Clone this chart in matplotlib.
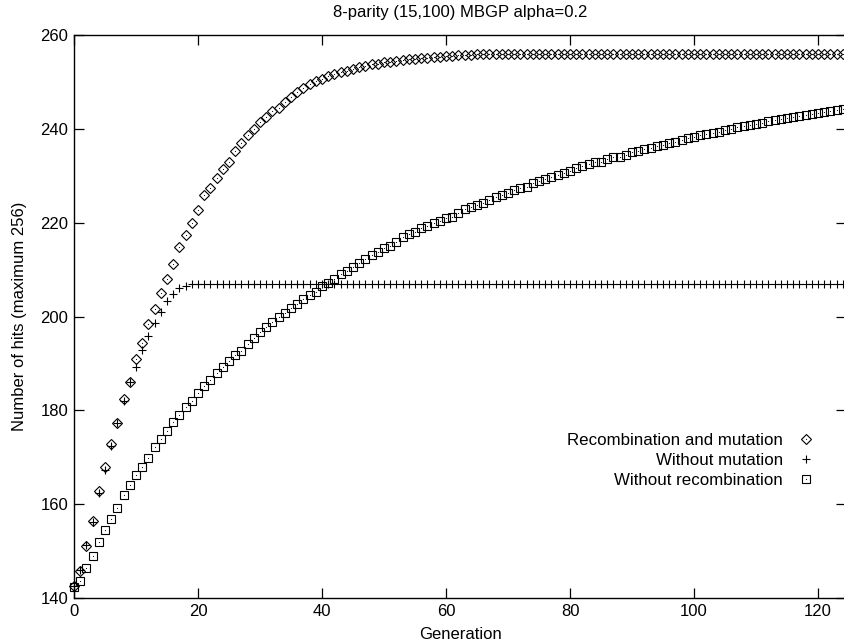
import matplotlib
matplotlib.use("Agg")
import matplotlib.pyplot as plt
import numpy as np

plt.rcParams['font.family'] = ['Liberation Sans', 'DejaVu Sans']

title = "8-parity (15,100) MBGP alpha=0.2"
xlabel = "Generation"
ylabel = "Number of hits (maximum 256)"
labels = ["Recombination and mutation", "Without mutation", "Without recombination"]

generations = list(range(0, 126))

rec_and_mut = [
    142.5, 145.8, 151.1, 156.4, 162.9, 168.0, 172.8, 177.3, 182.4, 186.0,
    190.9, 194.3, 198.4, 201.6, 205.1, 208.0, 211.1, 214.9, 217.4, 219.9,
    222.7, 225.8, 227.3, 229.5, 231.4, 233.0, 235.2, 236.9, 238.7, 240.0,
    241.4, 242.6, 243.7, 244.5, 245.7, 246.8, 247.8, 248.7, 249.5, 250.1,
    250.6, 251.2, 251.7, 252.1, 252.4, 252.8, 253.2, 253.4, 253.8, 253.9,
    254.2, 254.3, 254.5, 254.6, 254.8, 254.9, 255.0, 255.1, 255.3, 255.4,
    255.5, 255.6, 255.7, 255.8, 255.8, 255.9, 255.9, 256.0, 256.0, 256.0,
    256.0, 256.0, 256.0, 256.0, 256.0, 256.0, 256.0, 256.0, 256.0, 256.0,
    256.0, 256.0, 256.0, 256.0, 256.0, 256.0, 256.0, 256.0, 256.0, 256.0,
    256.0, 256.0, 256.0, 256.0, 256.0, 256.0, 256.0, 256.0, 256.0, 256.0,
    256.0, 256.0, 256.0, 256.0, 256.0, 256.0, 256.0, 256.0, 256.0, 256.0,
    256.0, 256.0, 256.0, 256.0, 256.0, 256.0, 256.0, 256.0, 256.0, 256.0,
    256.0, 256.0, 256.0, 256.0, 256.0, 256.0,
]

without_mutation = [
    142.5, 146.0, 151.2, 156.3, 162.3, 167.3, 172.3, 177.2, 181.9, 186.1,
    189.3, 192.9, 195.9, 198.7, 201.0, 203.2, 204.8, 206.0, 206.6, 206.9,
    206.9, 206.9, 206.9, 206.9, 206.9, 206.9, 206.9, 206.9, 206.9, 206.9,
    206.9, 206.9, 206.9, 206.9, 206.9, 206.9, 206.9, 206.9, 206.9, 206.9,
    206.9, 206.9, 206.9, 206.9, 206.9, 206.9, 206.9, 206.9, 206.9, 206.9,
    206.9, 206.9, 206.9, 206.9, 206.9, 206.9, 206.9, 206.9, 206.9, 206.9,
    206.9, 206.9, 206.9, 206.9, 206.9, 206.9, 206.9, 206.9, 206.9, 206.9,
    206.9, 206.9, 206.9, 206.9, 206.9, 206.9, 206.9, 206.9, 206.9, 206.9,
    206.9, 206.9, 206.9, 206.9, 206.9, 206.9, 206.9, 206.9, 206.9, 206.9,
    206.9, 206.9, 206.9, 206.9, 206.9, 206.9, 206.9, 206.9, 206.9, 206.9,
    206.9, 206.9, 206.9, 206.9, 206.9, 206.9, 206.9, 206.9, 206.9, 206.9,
    206.9, 206.9, 206.9, 206.9, 206.9, 206.9, 206.9, 206.9, 206.9, 206.9,
    206.9, 206.9, 206.9, 206.9, 206.9, 206.9,
]

without_recombination = [
    142.3, 143.6, 146.5, 149.0, 151.9, 154.4, 156.8, 159.1, 161.9, 164.0,
    166.2, 167.9, 169.9, 172.2, 173.9, 175.6, 177.5, 179.0, 180.7, 181.9,
    183.6, 185.1, 186.5, 188.0, 189.3, 190.6, 191.8, 192.7, 194.2, 195.4,
    196.8, 197.8, 198.9, 199.8, 200.7, 201.8, 202.7, 203.7, 204.5, 205.3,
    206.4, 207.1, 208.0, 209.0, 209.8, 210.6, 211.5, 212.2, 213.1, 213.8,
    214.6, 215.0, 215.8, 216.9, 217.5, 218.1, 218.8, 219.2, 219.9, 220.4,
    221.0, 221.3, 222.0, 222.9, 223.3, 223.8, 224.2, 224.9, 225.4, 225.9,
    226.3, 227.0, 227.4, 227.7, 228.4, 228.8, 229.3, 229.7, 230.2, 230.6,
    231.0, 231.6, 232.0, 232.5, 232.9, 233.0, 233.5, 233.9, 234.1, 234.5,
    235.0, 235.3, 235.6, 236.0, 236.3, 236.6, 237.0, 237.3, 237.7, 238.0,
    238.3, 238.6, 238.8, 239.1, 239.4, 239.7, 240.0, 240.3, 240.6, 240.8,
    241.0, 241.3, 241.6, 241.8, 242.0, 242.3, 242.5, 242.7, 242.9, 243.2,
    243.4, 243.6, 243.9, 244.1, 244.3, 244.5,
]

xticks = [0, 20, 40, 60, 80, 100, 120]
yticks = [140, 160, 180, 200, 220, 240, 260]

W, H = 844, 643
fig = plt.figure(figsize=(W / 100, H / 100), dpi=100)
left, right, top, bottom = 74, 846, 35, 598
ax = fig.add_axes([left / W, 1 - bottom / H, (right - left) / W, (bottom - top) / H])

series = [
    (rec_and_mut, 'D', 4.6),
    (without_mutation, '+', 6.0),
    (without_recombination, 's', 5.4),
]

handles = []
for (vals, mk, ms), lab in zip(series, labels):
    h, = ax.plot(generations, vals, linestyle='none', marker=mk, markersize=ms,
                 markerfacecolor='none', markeredgecolor='black',
                 markeredgewidth=0.8, color='black', clip_on=False, zorder=3)
    if mk != '+':
        d, = ax.plot(generations, vals, linestyle='none', marker='o', markersize=0.8,
                     markerfacecolor='black', markeredgecolor='none', color='black',
                     clip_on=False, zorder=4)
        handles.append((h, d))
    else:
        handles.append(h)

ax.set_xlim(0, 124.5)
ax.set_ylim(140, 260)
ax.set_xticks(xticks)
ax.set_yticks(yticks)
ax.tick_params(direction='in', length=7, width=0.9, top=True, right=True,
               labelsize=12, pad=4, colors='black')
for s in ax.spines.values():
    s.set_linewidth(1.0)
    s.set_color('black')

ax.set_title(title, fontsize=12, pad=13)
ax.set_xlabel(xlabel, fontsize=12, labelpad=6)
ax.set_ylabel(ylabel, fontsize=12, labelpad=10)

leg = ax.legend(handles, labels, loc='upper right', bbox_to_anchor=(816 / W, 1 - 433 / H),
                bbox_transform=fig.transFigure, frameon=False, markerfirst=False,
                fontsize=12.2, handlelength=1.2, handletextpad=0.75, labelspacing=0.3,
                borderpad=0, borderaxespad=0)
for t in leg.get_texts():
    t.set_ha('right')

fig.savefig("out.png", dpi=100)
